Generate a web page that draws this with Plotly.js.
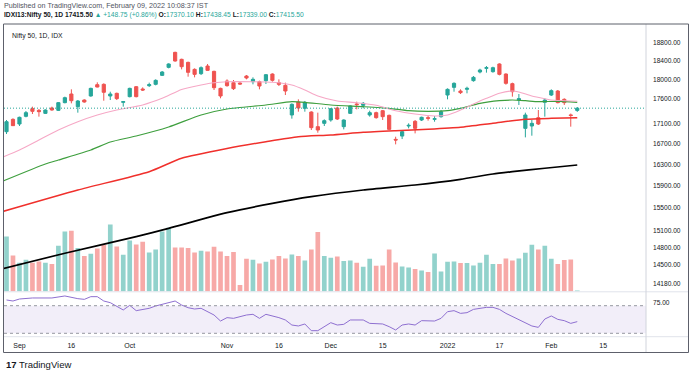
<!DOCTYPE html>
<html><head><meta charset="utf-8">
<script src="https://cdn.plot.ly/plotly-3.0.1.min.js"></script>
<style>html,body{margin:0;padding:0;background:#fff;}#chart{width:690px;height:374px;}</style>
</head><body><div id="chart"></div>
<script>
// ---- data (bar index 0 .. 88) ----
const open = [16943,17189,17096,17250,17405,17371,17310,17419,17371,17528,
17706,17446,17582,17665,17900,17907,17665,17720,17535,17651,
17858,17810,17879,17907,18096,18266,18589,18438,18373,18223,
18132,18295,18181,17823,17977,17942,17935,18082,17963,17963,
17984,18124,17942,17886,17277,17541,17412,17337,17043,17109,
17176,17419,17043,17310,17501,17473,17277,17324,17364,17270,
16792,16857,17056,17149,17176,17223,17189,17243,17685,17844,
17768,17803,17984,18167,18245,18174,18338,18124,17921,17582,
17009,17056,17223,17535,17685,17768,17596,17279,17370.10];
const high = [17176,17210,17243,17358,17446,17398,17391,17446,17541,17651,
17803,17582,17596,17837,17949,17928,17754,17734,17562,17837,
17872,17844,17942,18012,18188,18352,18603,18452,18388,18245,
18287,18338,18195,17837,18012,17998,17949,18103,18054,17984,
18124,18139,18012,17942,17514,17596,17562,17351,17324,17189,
17419,17446,17189,17473,17548,17541,17364,17344,17378,17284,
16844,16976,17109,17176,17243,17270,17257,17378,17823,17949,
17803,17858,18082,18237,18295,18280,18352,18139,17942,17706,
17324,17176,17378,17617,17803,17789,17617,17306,17438.45];
const low = [16897,17056,17056,17230,17297,17243,17297,17364,17358,17514,
17514,17324,17528,17651,17844,17568,17582,17582,17446,17637,
17637,17768,17851,17886,18082,18245,18388,18223,18068,18054,
18103,18195,17789,17617,17858,17789,17900,18012,17907,17803,
17914,17963,17872,17685,17203,17344,17344,16976,16923,17056,
17142,17176,16989,17297,17391,17412,17243,17203,17176,16976,
16694,16798,17009,16910,17156,17163,17142,17223,17596,17754,
17706,17720,17963,18139,18153,18153,18096,17900,17651,17480,
16831,16864,17076,17243,17665,17514,17480,17043,17339.00];
const close = [17142,17063,17230,17324,17351,17344,17378,17378,17528,17630,
17568,17562,17541,17823,17851,17741,17706,17610,17548,17823,
17651,17789,17900,17991,18167,18338,18402,18280,18160,18117,
18259,18202,17837,17665,17879,17817,17914,18040,18012,17872,
18110,17991,17907,17768,17494,17419,17535,17023,16976,17163,
17405,17196,17176,17460,17487,17514,17324,17223,17243,16989,
16779,16943,17069,17009,17230,17210,17203,17344,17803,17928,
17734,17823,18054,18209,18259,18259,18117,17928,17754,17610,
17277,17109,17096,17582,17775,17528,17528,17266.75,17415.50];
const volume = [275,180,144,159,144,150,144,137,229,300,
304,217,177,189,215,232,335,225,184,255,
235,249,195,210,300,319,220,220,217,195,
204,200,224,200,177,197,32,164,159,140,
149,160,177,165,185,177,155,210,297,177,
169,175,152,155,144,124,164,129,130,210,
145,125,120,112,105,97,190,100,149,150,
142,142,130,144,184,137,137,165,155,165,
194,234,210,229,164,137,157,160,5];

// moving averages (bar index, value)
const ma20X = [-1,2,5,8,11,14,17,21,24,27,30,32,34,38,41,44,46,48,51,54,57,60,63,66,68,70,72,74,76,78,79,81,83,84,86,88];
const ma20Y = [16425,16584,16779,16977,17142,17277,17378,17480,17616,17800,17893,17941,17962,17962,17950,17893,17789,17664,17562,17527,17474,17364,17297,17257,17277,17378,17500,17616,17721,17768,17748,17664,17607,17582,17568,17556];
const ma50X = [-1,6,8,13,16,20,25,30,34,40,44,46,50,55,59,62,65,68,70,73,76,78,80,82,85,88];
const ma50Y = [15970,16315,16392,16584,16740,16858,17036,17277,17398,17480,17548,17535,17480,17446,17412,17364,17352,17364,17412,17514,17568,17582,17568,17548,17556,17535];
const ma100X = [-1,11,22,27,34,40,45,50,55,60,65,70,75,80,84,88];
const ma100Y = [15420,15827,16169,16425,16613,16746,16844,16878,16931,16963,16991,17030,17110,17190,17210,17222];
const ma200X = [-1,9,20,25,34,41,47,55,63,70,75,78,83,88];
const ma200Y = [14426,14699,14987,15134,15413,15582,15704,15827,15920,16026,16126,16169,16234,16296];

const rsiX = [0,1,2,4,7,9,11,12,13,14,15,16,18,19,20,22,23,25,26,27,28,29,30,32,33,34,35,37,38,39,40,42,43,44,45,46,47,48,50,51,52,53,55,56,58,59,60,61,62,63,64,66,67,68,69,70,71,72,74,75,76,77,79,81,82,83,84,85,86,87,88];
const rsiY = [78.3,76.8,79.7,81.2,81.2,84.1,80.2,79.2,83.1,83.1,76.8,74.4,63.8,70.5,62.8,66.2,69.6,74.4,76.8,71.0,67.1,65.2,66.2,56.5,47.8,52.7,51.7,56.5,57.5,51.7,57.5,52.7,49.3,42.0,40.6,43.5,33.8,33.8,45.4,42.0,43.0,49.3,49.3,44.4,43.5,39.6,34.8,42.0,43.5,42.0,48.3,47.8,51.7,61.3,62.8,58.9,59.9,64.7,67.6,67.6,64.7,58.9,50.2,40.6,38.6,50.7,55.1,50.2,48.3,44.4,46.9];
const rsiBands = [30, 70];

const timeTickIdx = [2,10,19,34,42,50,58,68,76,84,92];
const timeTickText = ['Sep','16','Oct','Nov','16','Dec','15','2022','17','Feb','15'];
const priceTicks = [14180,14500,14800,15100,15500,15900,16300,16700,17100,17600,18000,18400,18800];
const rsiTicks = [75];
const prevClose = 17266.75;

// ---- build ----
const idx = open.map((_, i) => i);
const UP = '#26a69a', DN = '#ef5350';
const volColors = idx.map(i => close[i] >= open[i] ? 'rgba(38,166,154,0.5)' : 'rgba(239,83,80,0.5)');
const last = close.length - 1;
const lastClose = close[last];
const chg = lastClose - prevClose;
const chgPct = chg / prevClose * 100;
const FONT = 'Liberation Sans, Arial, sans-serif';

// pixel -> paper helpers for frame decoration (plot area: x 4..646, y 24..352)
const fx = px => (px - 4) / 642;
const fy = py => (352 - py) / 328;

const traces = [
  {type:'bar', x:idx, y:volume, xaxis:'x', yaxis:'y', width:0.72,
   marker:{color:volColors, line:{width:0}}, hoverinfo:'skip'},
  {type:'scatter', mode:'lines', x:ma200X, y:ma200Y, xaxis:'x', yaxis:'y2',
   line:{color:'#000000', width:1.7, shape:'spline', smoothing:0.6}, hoverinfo:'skip'},
  {type:'scatter', mode:'lines', x:ma100X, y:ma100Y, xaxis:'x', yaxis:'y2',
   line:{color:'#f0302c', width:1.5, shape:'spline', smoothing:0.6}, hoverinfo:'skip'},
  {type:'scatter', mode:'lines', x:ma50X, y:ma50Y, xaxis:'x', yaxis:'y2',
   line:{color:'#3e9f3e', width:1.2, shape:'spline', smoothing:0.6}, hoverinfo:'skip'},
  {type:'scatter', mode:'lines', x:ma20X, y:ma20Y, xaxis:'x', yaxis:'y2',
   line:{color:'#f6a8c6', width:1.1, shape:'spline', smoothing:0.6}, hoverinfo:'skip'},
  {type:'candlestick', x:idx, open:open, high:high, low:low, close:close, xaxis:'x', yaxis:'y2',
   whiskerwidth:0,
   increasing:{line:{color:UP, width:1}, fillcolor:UP},
   decreasing:{line:{color:DN, width:1}, fillcolor:DN}, hoverinfo:'skip'},
  {type:'scatter', mode:'lines', x:rsiX, y:rsiY, xaxis:'x', yaxis:'y3',
   line:{color:'#8e6fd0', width:1}, hoverinfo:'skip'}
];

const teal = s => `<span style="color:${UP}">${s}</span>`;
const header2 = `<b>IDXI13:Nifty 50, 1D</b> <b>${lastClose.toFixed(2)}</b> ` +
  teal(`▲ +${chg.toFixed(2)} (+${chgPct.toFixed(2)}%)`) +
  ` <b>O:</b>${teal(open[last].toFixed(2))} <b>H:</b>${teal(high[last].toFixed(2))}` +
  ` <b>L:</b>${teal(low[last].toFixed(2))} <b>C:</b>${teal(close[last].toFixed(2))}`;

const layout = {
  width:690, height:374,
  margin:{l:4, r:44, t:24, b:22, pad:0},
  paper_bgcolor:'#ffffff', plot_bgcolor:'#ffffff',
  showlegend:false, hovermode:false,
  font:{family:FONT, size:7, color:'#131722'},
  xaxis:{range:[-0.385, 98.6], anchor:'y3', showgrid:false, zeroline:false, showline:false,
         ticks:'', tickvals:timeTickIdx, ticktext:timeTickText,
         tickfont:{size:7, color:'#131722'}, ticklabelstandoff:3,
         rangeslider:{visible:false}, fixedrange:true},
  yaxis:{domain:[fy(291.5), 1], range:[0, 1337.5], visible:false, fixedrange:true},
  yaxis2:{overlaying:'y', type:'log', range:[4.14788, 4.28365], side:'right',
          showgrid:false, zeroline:false, showline:false, ticks:'',
          tickvals:priceTicks, ticktext:priceTicks.map(v => v.toFixed(2)),
          tickfont:{size:6.6, color:'#131722'}, ticklabelstandoff:6, fixedrange:true},
  yaxis3:{domain:[fy(336.5), fy(292.5)], range:[25.36, 89.13], side:'right',
          showgrid:false, zeroline:false, showline:false, ticks:'',
          tickvals:rsiTicks, ticktext:rsiTicks.map(v => v.toFixed(2)),
          tickfont:{size:6.6, color:'#131722'}, ticklabelstandoff:6, fixedrange:true},
  shapes:[
    {type:'rect', xref:'paper', yref:'y3', x0:0, x1:1, y0:rsiBands[0], y1:rsiBands[1],
     fillcolor:'rgba(126,87,194,0.1)', line:{width:0}, layer:'below'},
    {type:'line', xref:'paper', yref:'y3', x0:0, x1:1, y0:rsiBands[1], y1:rsiBands[1],
     line:{color:'#9598a1', width:1, dash:'3px,3px'}},
    {type:'line', xref:'paper', yref:'y3', x0:0, x1:1, y0:rsiBands[0], y1:rsiBands[0],
     line:{color:'#9598a1', width:1, dash:'3px,3px'}},
    {type:'line', xref:'paper', yref:'y2', x0:0, x1:1, y0:lastClose, y1:lastClose,
     line:{color:UP, width:1, dash:'1px,2px'}},
    // pane separators / frame
    {type:'line', xref:'paper', yref:'paper', x0:fx(3.5), x1:fx(688.5), y0:fy(291.8), y1:fy(291.8),
     line:{color:'#e0e3eb', width:1}},
    {type:'line', xref:'paper', yref:'paper', x0:fx(3.5), x1:fx(688.5), y0:fy(336.7), y1:fy(336.7),
     line:{color:'#e0e3eb', width:1}},
    {type:'line', xref:'paper', yref:'paper', x0:fx(646), x1:fx(646), y0:fy(352), y1:fy(24),
     line:{color:'#d1d4dc', width:1}},
    {type:'rect', xref:'paper', yref:'paper', x0:fx(3.5), x1:fx(688.5), y0:fy(352.5), y1:fy(24),
     line:{color:'#5d606b', width:1}, fillcolor:'rgba(0,0,0,0)'}
  ],
  annotations:[
    {xref:'paper', yref:'paper', x:fx(1.5), y:fy(6), xanchor:'left', yanchor:'middle', showarrow:false,
     text:'Published on TradingView.com, February 09, 2022 10:08:37 IST',
     font:{size:7.2, color:'#50535e'}},
    {xref:'paper', yref:'paper', x:fx(1.5), y:fy(15), xanchor:'left', yanchor:'middle', showarrow:false,
     text:header2, font:{size:6.7, color:'#131722'}},
    {xref:'paper', yref:'paper', x:fx(10), y:fy(36), xanchor:'left', yanchor:'middle', showarrow:false,
     text:'Nifty 50, 1D, IDX', font:{size:6.8, color:'#131722'}},
    {xref:'paper', yref:'y2', x:1, y:lastClose, xanchor:'left', yanchor:'middle', showarrow:false,
     xshift:1, text:'<b>' + lastClose.toFixed(2) + '</b>', width:36, height:9, bgcolor:UP,
     font:{size:6.8, color:'#ffffff'}, align:'center'},
    {xref:'paper', yref:'paper', x:fx(4), y:fy(364), xanchor:'left', yanchor:'middle', showarrow:false,
     text:'<b>17</b> TradingView', font:{size:9.5, color:'#131722'}}
  ]
};

Plotly.newPlot('chart', traces, layout, {staticPlot:true, displayModeBar:false});
</script></body></html>
